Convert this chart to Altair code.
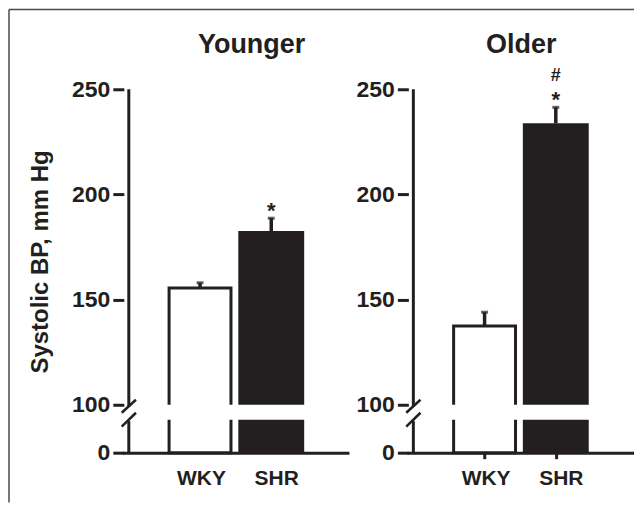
import altair as alt
import pandas as pd

# ---- data ----
groups = ["Younger", "Younger", "Older", "Older"]
strains = ["WKY", "SHR", "WKY", "SHR"]
means = [155.5, 182.6, 137.5, 233.8]
sems = [2.5, 6.1, 6.5, 7.6]
stars = ["", "*", "", "*"]
hashes = ["", "", "", "#"]
panel_titles = ["Younger", "Older"]
strain_labels = ["WKY", "SHR"]
y_ticks = [0, 100, 150, 200, 250]
y_title = "Systolic BP, mm Hg"

# axis break (value units of the piecewise scale)
BAR_BREAK_LO, BAR_BREAK_HI = 68.75, 100
AXIS_BREAK_LO, AXIS_BREAK_HI = 66, 96

INK = "#231f20"
FONT = "Liberation Sans"
W, H = 224, 364

df = pd.DataFrame({"group": groups, "strain": strains, "mean": means,
                   "sem": sems, "star": stars, "hash": hashes})
df["pos"] = df["strain"].map({s: i + 1 for i, s in enumerate(strain_labels)})
df["top"] = df["mean"] + df["sem"]

label_expr = f"datum.value == 1 ? '{strain_labels[0]}' : '{strain_labels[1]}'"


def panel(idx):
    name = panel_titles[idx]
    d = df[df.group == name]
    xs = alt.Scale(domain=[0, 3], nice=False, zero=False)
    ys = alt.Scale(domain=[0, 100, 250], range=[H, H - 48, 0], nice=False, zero=False)
    x_axis = alt.Axis(values=[1, 2], labelExpr=label_expr, title=None, grid=False,
                      domain=True, domainWidth=3, domainColor=INK, domainCap="square",
                      ticks=True, tickSize=6, tickWidth=3, tickColor=INK,
                      tickOpacity=1 if idx == 1 else 0,
                      labelFont=FONT, labelFontSize=21, labelFontWeight="bold",
                      labelColor=INK, labelPadding=9,
                      labelOffset={"condition": {"test": "datum.value == 2", "value": 5},
                                   "value": 1})
    y_axis = alt.Axis(values=y_ticks, title=y_title if idx == 0 else None, grid=False,
                      domain=False, ticks=True, tickSize=11, tickWidth=3, tickColor=INK,
                      labelFont=FONT, labelFontSize=23, labelFontWeight="bold",
                      labelColor=INK, labelPadding=3,
                      titleFont=FONT, titleFontSize=24, titleFontWeight="bold",
                      titleColor=INK, titleAngle=270, titleBaseline="alphabetic",
                      titleAlign="center", titleX=-76, titleY=172.5)

    def X(f):
        return alt.X(f, type="quantitative", scale=xs, axis=x_axis)

    def Y(f):
        return alt.Y(f, type="quantitative", scale=ys, axis=y_axis)

    base = alt.Chart(d)
    black = base.transform_filter(alt.datum.strain == "SHR").mark_bar(
        width=66, color=INK).encode(x=X("pos"), y=Y("mean"), y2=alt.Y2("zero:Q")
    ).transform_calculate(zero="0")
    white = base.transform_filter(alt.datum.strain == "WKY").mark_bar(
        width=62, fill="white", stroke=INK, strokeWidth=3).encode(
        x=X("pos"), y=Y("mean"), y2=alt.Y2("zero:Q")).transform_calculate(zero="0")

    mask_df = pd.DataFrame({"x0": [0.45], "x1": [2.55],
                            "y0": [BAR_BREAK_LO], "y1": [BAR_BREAK_HI]})
    mask = alt.Chart(mask_df).mark_rect(color="white").encode(
        x=X("x0"), x2="x1", y=Y("y0"), y2="y1")

    stem = base.mark_rule(color=INK, strokeWidth=3.5).encode(
        x=X("pos"), y=Y("mean"), y2="top")
    cap = base.mark_tick(orient="horizontal", size=7, thickness=3, color=INK).encode(
        x=X("pos"), y=Y("top"))
    star = base.mark_text(font=FONT, fontSize=22, fontWeight="bold", color=INK,
                          baseline="alphabetic", dy=0).encode(
        x=X("pos"), y=Y("top"), text="star:N")
    hsh = base.mark_text(font=FONT, fontSize=18, fontWeight="bold", color=INK,
                         baseline="alphabetic", dy=-26).encode(
        x=X("pos"), y=Y("top"), text="hash:N")

    axis_df = pd.DataFrame({"x": [0, 0], "y0": [0, AXIS_BREAK_HI],
                            "y1": [AXIS_BREAK_LO, 250]})
    yline = alt.Chart(axis_df).mark_rule(color=INK, strokeWidth=3).encode(
        x=X("x"), y=Y("y0"), y2="y1")
    slash_df = pd.DataFrame({"x0": [-0.1, -0.1], "x1": [0.1, 0.1],
                             "y0": [83.3, 54.2], "y1": [102.4, 83.3]})
    slashes = alt.Chart(slash_df).mark_rule(color=INK, strokeWidth=2.5).encode(
        x=X("x0"), x2="x1", y=Y("y0"), y2="y1")

    title_df = pd.DataFrame({"t": [name], "x": [1.5]})
    title = alt.Chart(title_df).mark_text(
        font=FONT, fontSize=27, fontWeight="bold", color=INK, align="center",
        baseline="alphabetic", dx=16 if idx == 0 else 1).encode(
        x=X("x"), y=alt.value(-36), text="t:N")

    layers = [black, white, mask, stem, cap, star, hsh, yline, slashes, title]
    if idx == 0:
        fdf = pd.DataFrame({"a": [0]})
        ftop = alt.Chart(fdf).mark_rule(color="#4a4a4a", strokeWidth=1.5).encode(
            x=alt.value(-115), x2=alt.value(511), y=alt.value(-80))
        fleft = alt.Chart(fdf).mark_rule(color="#4a4a4a", strokeWidth=1.5).encode(
            x=alt.value(-115), y=alt.value(-80), y2=alt.value(414))
        layers += [ftop, fleft]
    return alt.layer(*layers).properties(width=W, height=H)


chart = alt.hconcat(panel(0), panel(1), spacing=61, bounds="flush").properties(
    padding=0, background="white"
).configure_view(stroke=None)

chart.save("out.html", embed_options={"renderer": "svg", "actions": False})
